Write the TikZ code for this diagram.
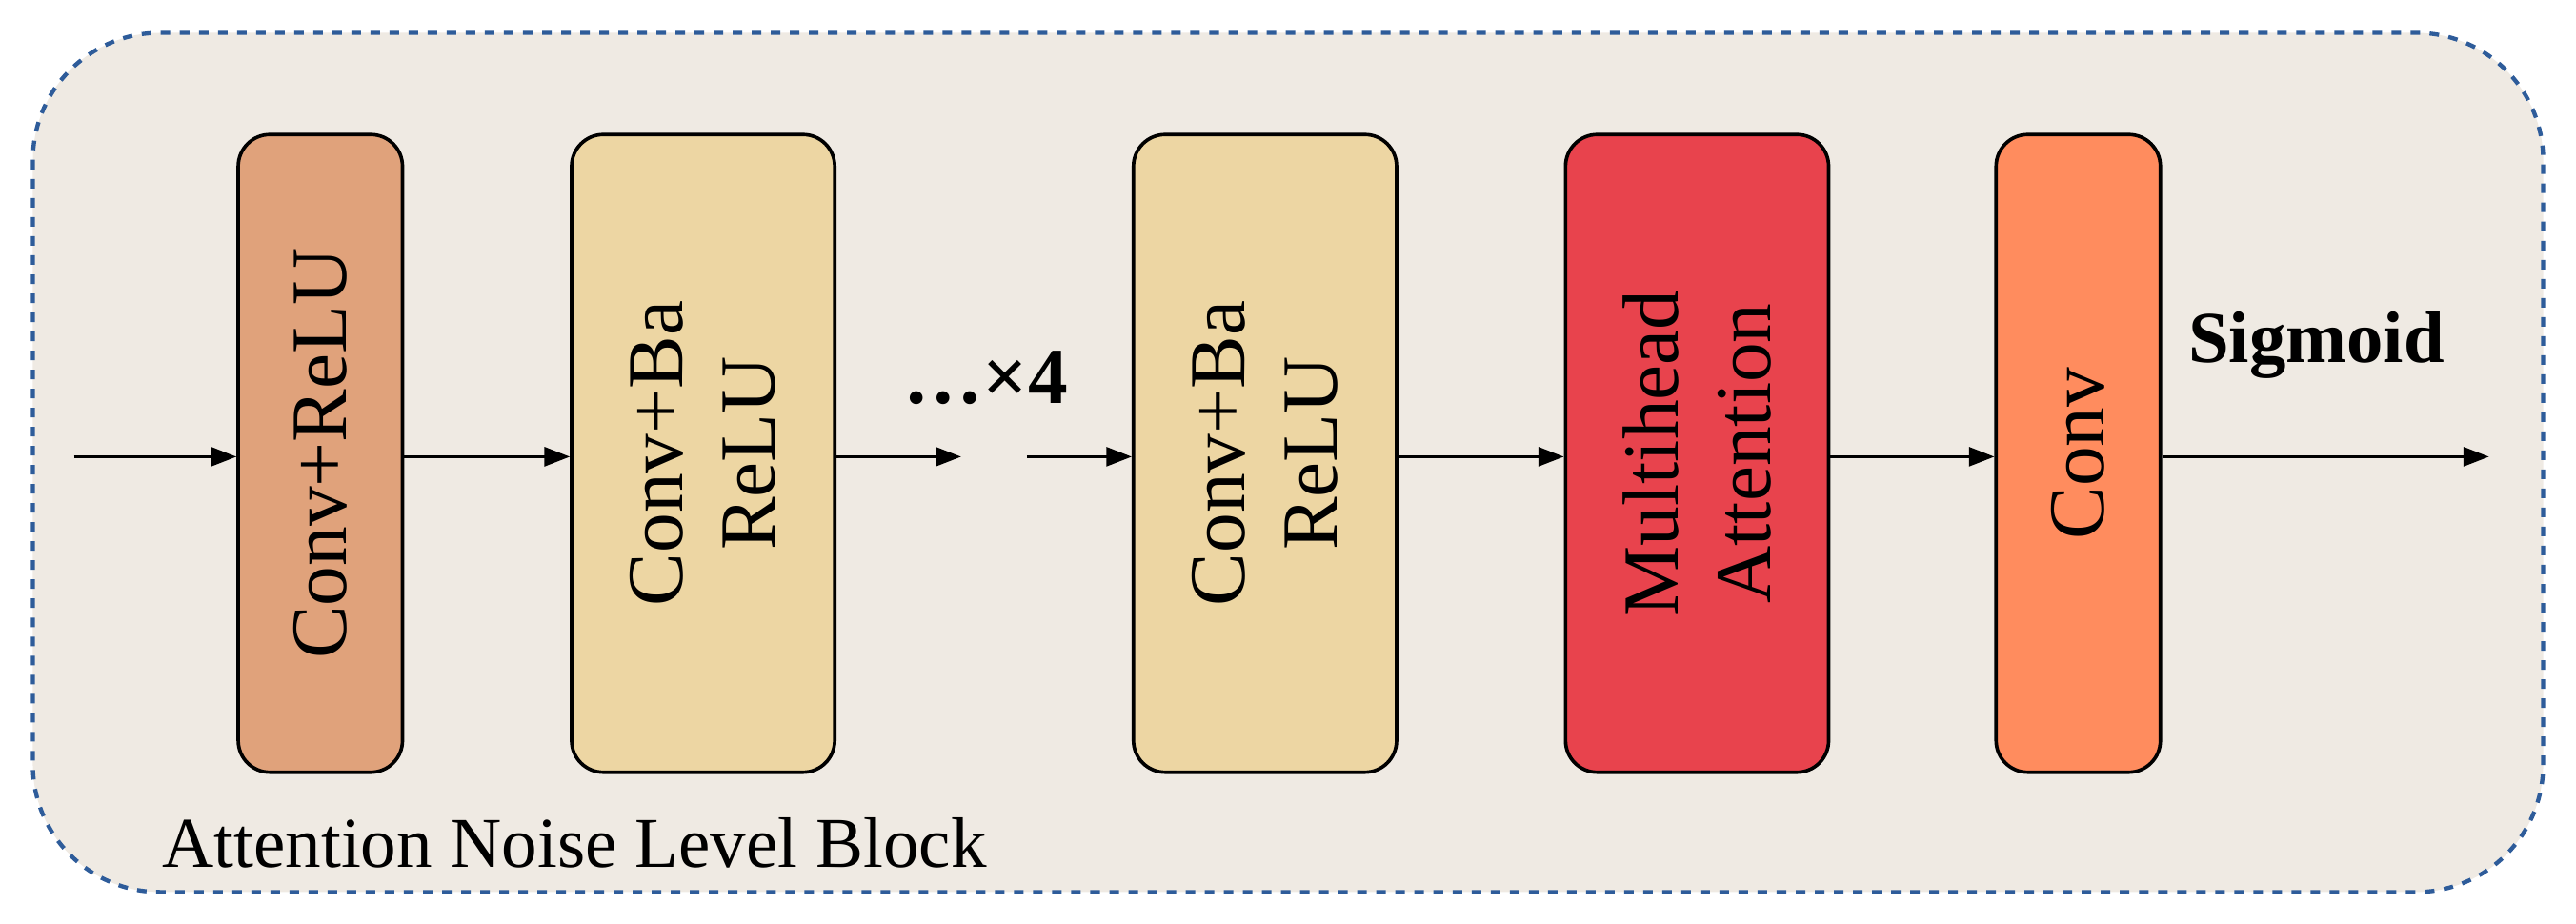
\documentclass[tikz,border=0pt]{standalone}
\usepackage{fontspec}
\setmainfont{Liberation Serif}
\usetikzlibrary{arrows.meta}
\definecolor{bg}{HTML}{EFEAE3}
\definecolor{frame}{HTML}{2E5C9A}
\definecolor{c1}{HTML}{E0A27B}
\definecolor{c2}{HTML}{EDD6A3}
\definecolor{c4}{HTML}{E8434D}
\definecolor{c5}{HTML}{FF8C5E}
\begin{document}
\begin{tikzpicture}[x=0.517pt,y=-0.517pt,
 blk/.style={draw=black,line width=1.1pt,rounded corners=10pt,inner sep=0pt},
 lbl/.style={rotate=90,align=center,font=\fontsize{25}{29}\selectfont},
 arr/.style={-{Triangle[length=8pt,width=6pt]},line width=0.8pt}]
\useasboundingbox (0,0) rectangle (1568,562);
\draw[frame,dashed,line width=1.3pt,fill=bg,rounded corners=40pt] (20,20) rectangle (1548,543);
\node[blk,fill=c1,minimum width=51.7pt,minimum height=200.7pt] (b1) at (195,276) {};
\node[blk,fill=c2,minimum width=82.8pt,minimum height=200.7pt] (b2) at (428,276) {};
\node[blk,fill=c2,minimum width=82.8pt,minimum height=200.7pt] (b3) at (770,276) {};
\node[blk,fill=c4,minimum width=82.8pt,minimum height=200.7pt] (b4) at (1033,276) {};
\node[blk,fill=c5,minimum width=51.7pt,minimum height=200.7pt] (b5) at (1265,276) {};
\node[lbl] at (b1) {Conv+ReLU};
\node[lbl] at (b2) {Conv+Ba\\ReLU};
\node[lbl] at (b3) {Conv+Ba\\ReLU};
\node[lbl] at (b4) {Multihead\\Attention};
\node[lbl] at (b5) {Conv};
\coordinate (in) at (45,278);
\coordinate (m1) at (585,278);
\coordinate (m2) at (625,278);
\coordinate (out) at (1515,278);
\draw[arr] (in) -- (b1.west|-in);
\draw[arr] (b1.east|-in) -- (b2.west|-in);
\draw[arr] (b2.east|-in) -- (m1);
\draw[arr] (m2) -- (b3.west|-in);
\draw[arr] (b3.east|-in) -- (b4.west|-in);
\draw[arr] (b4.east|-in) -- (b5.west|-in);
\draw[arr] (b5.east|-in) -- (out);
\node[font=\bfseries\fontsize{25}{30}\selectfont] (dots) at (600,230) {…×4};
\node[font=\bfseries\fontsize{23}{28}\selectfont] (sig) at (1410,210) {Sigmoid};
\node[font=\fontsize{22.5}{27}\selectfont,anchor=west] (title) at (92,513) {Attention Noise Level Block};
\end{tikzpicture}
\end{document}
